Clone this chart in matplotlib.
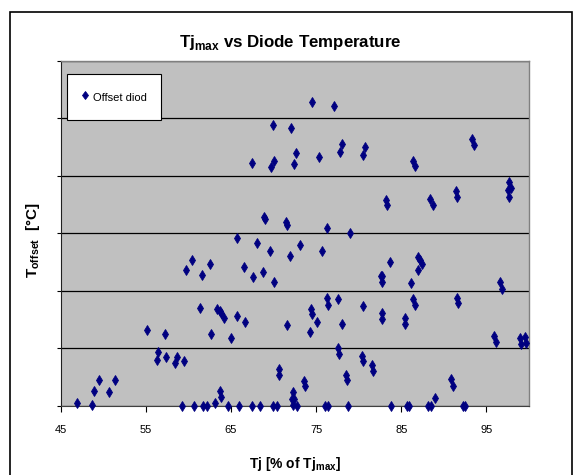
import matplotlib
matplotlib.use("Agg")
import matplotlib.pyplot as plt
from matplotlib.patches import Rectangle

plt.rcParams['font.family'] = ['Liberation Sans', 'DejaVu Sans']

# Data (x: Tj in % of Tjmax, y: offset, arbitrary units 0..60)
x_a = [46.9, 48.7, 48.9, 49.5, 50.7, 51.4, 55.2, 56.5, 56.3, 57.3, 57.4, 58.7, 58.5, 59.5,
       59.7, 60.4, 61.6, 62.6, 61.4, 62.7, 59.3, 60.7, 61.7, 62.2, 63.1]
y_a = [0.4, 0.2, 2.5, 4.5, 2.3, 4.4, 13.2, 9.3, 8.0, 12.4, 8.5, 8.5, 7.4, 7.7,
       23.6, 25.3, 22.8, 24.6, 17.0, 12.4, 0, 0, 0, 0, 0.4]

x_b = [63.4, 63.7, 63.9, 64.2, 65.7, 66.7, 65.0, 71.6, 74.4, 74.5, 75.1, 74.3, 76.3, 76.4,
       77.6, 78.0, 80.5, 77.6, 77.7, 80.4, 80.5, 70.7, 70.7, 73.6, 73.7, 78.5, 78.6, 63.7,
       63.8, 72.3, 72.2, 72.4, 72.3, 72.8,
       64.7, 65.9, 67.5, 68.4, 70.0, 70.4, 76.1, 76.4, 78.8]
y_b = [16.8, 16.4, 16.1, 15.3, 15.7, 14.5, 11.7, 14.1, 16.8, 15.9, 14.5, 12.8, 18.7, 17.5,
       18.6, 14.2, 17.4, 10.0, 9.0, 8.7, 7.7, 6.4, 5.3, 4.3, 3.4, 5.4, 4.4, 2.6,
       1.6, 2.3, 1.2, 1.2, 0.1, 0,
       0, 0, 0, 0, 0, 0, 0, 0, 0]

x_c = [65.7, 68.1, 69.6, 73.1, 75.7, 72.0, 66.6, 68.8, 67.6, 70.1, 76.3, 79.0]
y_c = [29.2, 28.3, 27.0, 27.9, 27.0, 26.0, 24.2, 23.3, 22.4, 21.5, 31.0, 30.0]

x_d = [83.7, 87.0, 87.2, 87.4, 87.0, 82.6, 82.8, 82.7, 86.1, 96.6, 96.8, 86.4, 86.6, 91.6,
       91.7, 82.7, 82.8, 85.4, 85.5, 95.9, 96.1, 98.9, 99.5, 99.6, 99.1, 81.6, 81.7, 90.9,
       91.1, 89.0, 83.8, 85.7, 85.9, 88.2, 88.5, 92.2, 92.5]
y_d = [25.0, 25.9, 25.3, 24.6, 23.6, 22.5, 22.6, 21.5, 21.3, 21.6, 20.3, 18.6, 17.5, 18.8,
       17.8, 16.2, 15.1, 15.2, 14.2, 12.1, 11.1, 11.8, 12.0, 10.9, 10.7, 7.1, 6.0, 4.7,
       3.5, 1.3, 0, 0, 0, 0, 0, 0, 0]

x_e = [74.5, 77.1, 69.9, 72.1, 78.0, 77.8, 80.8, 80.5, 72.7, 72.4, 75.3, 67.5, 70.1, 69.7,
       68.9, 69.0, 71.5, 71.6]
y_e = [52.8, 52.2, 48.9, 48.4, 45.6, 44.1, 45.0, 43.7, 43.9, 42.1, 43.3, 42.2, 42.6, 41.6,
       32.8, 32.5, 32.0, 31.5]

x_f = [86.4, 86.6, 93.3, 93.6, 83.2, 83.3, 88.4, 88.7, 91.4, 91.6, 97.7, 97.9, 97.5, 97.7]
y_f = [42.6, 41.8, 46.5, 45.4, 35.8, 34.9, 36.0, 34.9, 37.3, 36.4, 39.0, 37.9, 37.6, 36.4]

x_ticks = [45, 55, 65, 75, 85, 95]
y_ticks = [0, 10, 20, 30, 40, 50, 60]

xs = x_a + x_b + x_c + x_d + x_e + x_f
ys = y_a + y_b + y_c + y_d + y_e + y_f

W, H = 580, 475
fig = plt.figure(figsize=(W / 100, H / 100), dpi=100)
fig.patch.set_facecolor('white')

L, R, T, B = 60.5, 529, 61, 405.7
ax = fig.add_axes([L / W, 1 - B / H, (R - L) / W, (B - T) / H])
ax.set_facecolor('#C0C0C0')

ax.plot(xs, ys, linestyle='none', marker='d', markersize=5, color='#000080',
        markeredgewidth=0.6, clip_on=False, zorder=5, label='Offset diod')

ax.set_xlim(45, 100)
ax.set_ylim(0, 60)
ax.set_xticks(x_ticks)
ax.set_xticklabels([str(t) for t in x_ticks], fontsize=8)
ax.set_yticks(y_ticks)
ax.set_yticklabels([])
ax.tick_params(axis='x', direction='out', length=4, width=0.8, color='#000000', pad=10)
ax.tick_params(axis='y', direction='out', length=3, width=0.8, color='#000000')

ax.grid(axis='y', color='black', linewidth=0.9, zorder=1)
ax.set_axisbelow(True)

for side in ['top', 'right']:
    ax.spines[side].set_color('#808080')
    ax.spines[side].set_linewidth(1.0)
ax.spines['left'].set_color('#202020')
ax.spines['bottom'].set_color('#404040')

leg = ax.legend(loc='upper left', bbox_to_anchor=(0.013, 0.961), borderaxespad=0,
                fontsize=8, frameon=True, fancybox=False, borderpad=1.3,
                handlelength=0.8, handleheight=2.0, handletextpad=0.25,
                markerscale=0.9, framealpha=1.0)
leg.get_frame().set_edgecolor('black')
leg.get_frame().set_linewidth(0.8)
leg.get_frame().set_facecolor('white')

fig.text(290 / W, 1 - 42 / H, r'Tj$_\mathregular{max}$ vs Diode Temperature',
         ha='center', va='center', fontsize=12.2, fontweight='bold')
fig.text(295 / W, 1 - 464 / H, r'Tj [% of Tj$_\mathregular{max}$]',
         ha='center', va='center', fontsize=10, fontweight='bold')
fig.text(33 / W, 1 - 240 / H, r'T$_\mathregular{offset}$  [°C]',
         ha='center', va='center', fontsize=11, fontweight='bold', rotation=90)

fig.patches.append(Rectangle((10 / W, -0.05), (572 - 10) / W, 1 - 12 / H + 0.05,
                             transform=fig.transFigure, fill=False,
                             edgecolor='black', linewidth=1.2))

fig.savefig('out.png', dpi=100)
